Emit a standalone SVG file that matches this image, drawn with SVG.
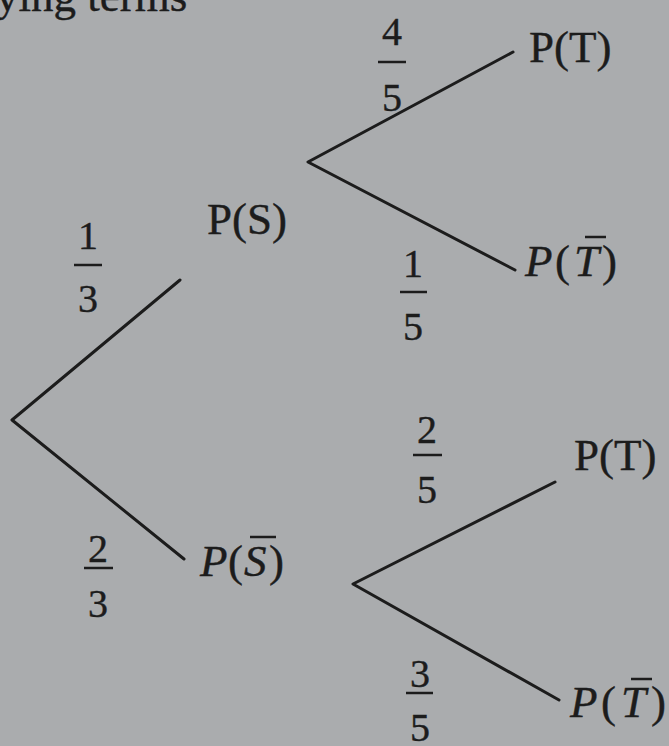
<svg xmlns="http://www.w3.org/2000/svg" width="669" height="746" viewBox="0 0 669 746">
<style>
.bg{fill:#aaacae}
.t{font-family:"Liberation Serif","Times New Roman",serif;font-size:45px;fill:#1c1c1c;stroke:#1c1c1c;stroke-width:0.4}
.i{font-style:italic}
.f{font-family:"Liberation Serif","Times New Roman",serif;font-size:40px;fill:#1c1c1c;stroke:#1c1c1c;stroke-width:0.4;text-anchor:middle}
.e{stroke:#1c1c1c;stroke-width:3;fill:none;stroke-linecap:round;stroke-linejoin:round}
.bar{stroke:#1c1c1c;stroke-width:2.5}
</style>
<rect class="bg" x="0" y="0" width="669" height="746"/>
<text class="t" x="-4" y="11" font-size="40">ying terms</text>
<g id="connectors">
  <path class="e" d="M180,280 L12,420 L184,559"/>
  <path class="e" d="M513,52 L308,162 L515,270"/>
  <path class="e" d="M555,482 L353,584 L559,700"/>
</g>
<g id="edge-labels">
  <g id="p-S"><text class="f" x="88" y="249">1</text><line class="bar" x1="74" y1="265" x2="102" y2="265"/><text class="f" x="88" y="312">3</text></g>
  <g id="p-Sbar"><text class="f" x="98" y="562">2</text><line class="bar" x1="84" y1="568" x2="113" y2="568"/><text class="f" x="98" y="617">3</text></g>
  <g id="p-T1"><text class="f" x="392" y="45">4</text><line class="bar" x1="378" y1="62" x2="406" y2="62"/><text class="f" x="392" y="111">5</text></g>
  <g id="p-Tbar1"><text class="f" x="413" y="277">1</text><line class="bar" x1="400" y1="292" x2="427" y2="292"/><text class="f" x="413" y="340">5</text></g>
  <g id="p-T2"><text class="f" x="427" y="443">2</text><line class="bar" x1="413" y1="455" x2="442" y2="455"/><text class="f" x="427" y="503">5</text></g>
  <g id="p-Tbar2"><text class="f" x="420" y="687">3</text><line class="bar" x1="406" y1="693" x2="433" y2="693"/><text class="f" x="420" y="741">5</text></g>
</g>
<g id="root"></g>
<g id="node-S"><text class="t" x="207" y="234">P(S)</text></g>
<g id="node-Sbar"><text class="t" y="576"><tspan class="i" x="200">P</tspan><tspan x="228">(</tspan><tspan class="i" x="244">S</tspan><tspan x="269">)</tspan></text><line class="bar" x1="250" y1="537" x2="276" y2="537"/></g>
<g id="node-T1"><text class="t" x="529" y="62">P(T)</text></g>
<g id="node-Tbar1"><text class="t" y="276"><tspan class="i" x="525">P</tspan><tspan x="555">(</tspan><tspan class="i" x="574">T</tspan><tspan x="602">)</tspan></text><line class="bar" x1="585" y1="237" x2="606" y2="237"/></g>
<g id="node-T2"><text class="t" x="574" y="470">P(T)</text></g>
<g id="node-Tbar2"><text class="t" y="717"><tspan class="i" x="570">P</tspan><tspan x="601">(</tspan><tspan class="i" x="621">T</tspan><tspan x="651">)</tspan></text><line class="bar" x1="631" y1="679" x2="652" y2="679"/></g>
</svg>
